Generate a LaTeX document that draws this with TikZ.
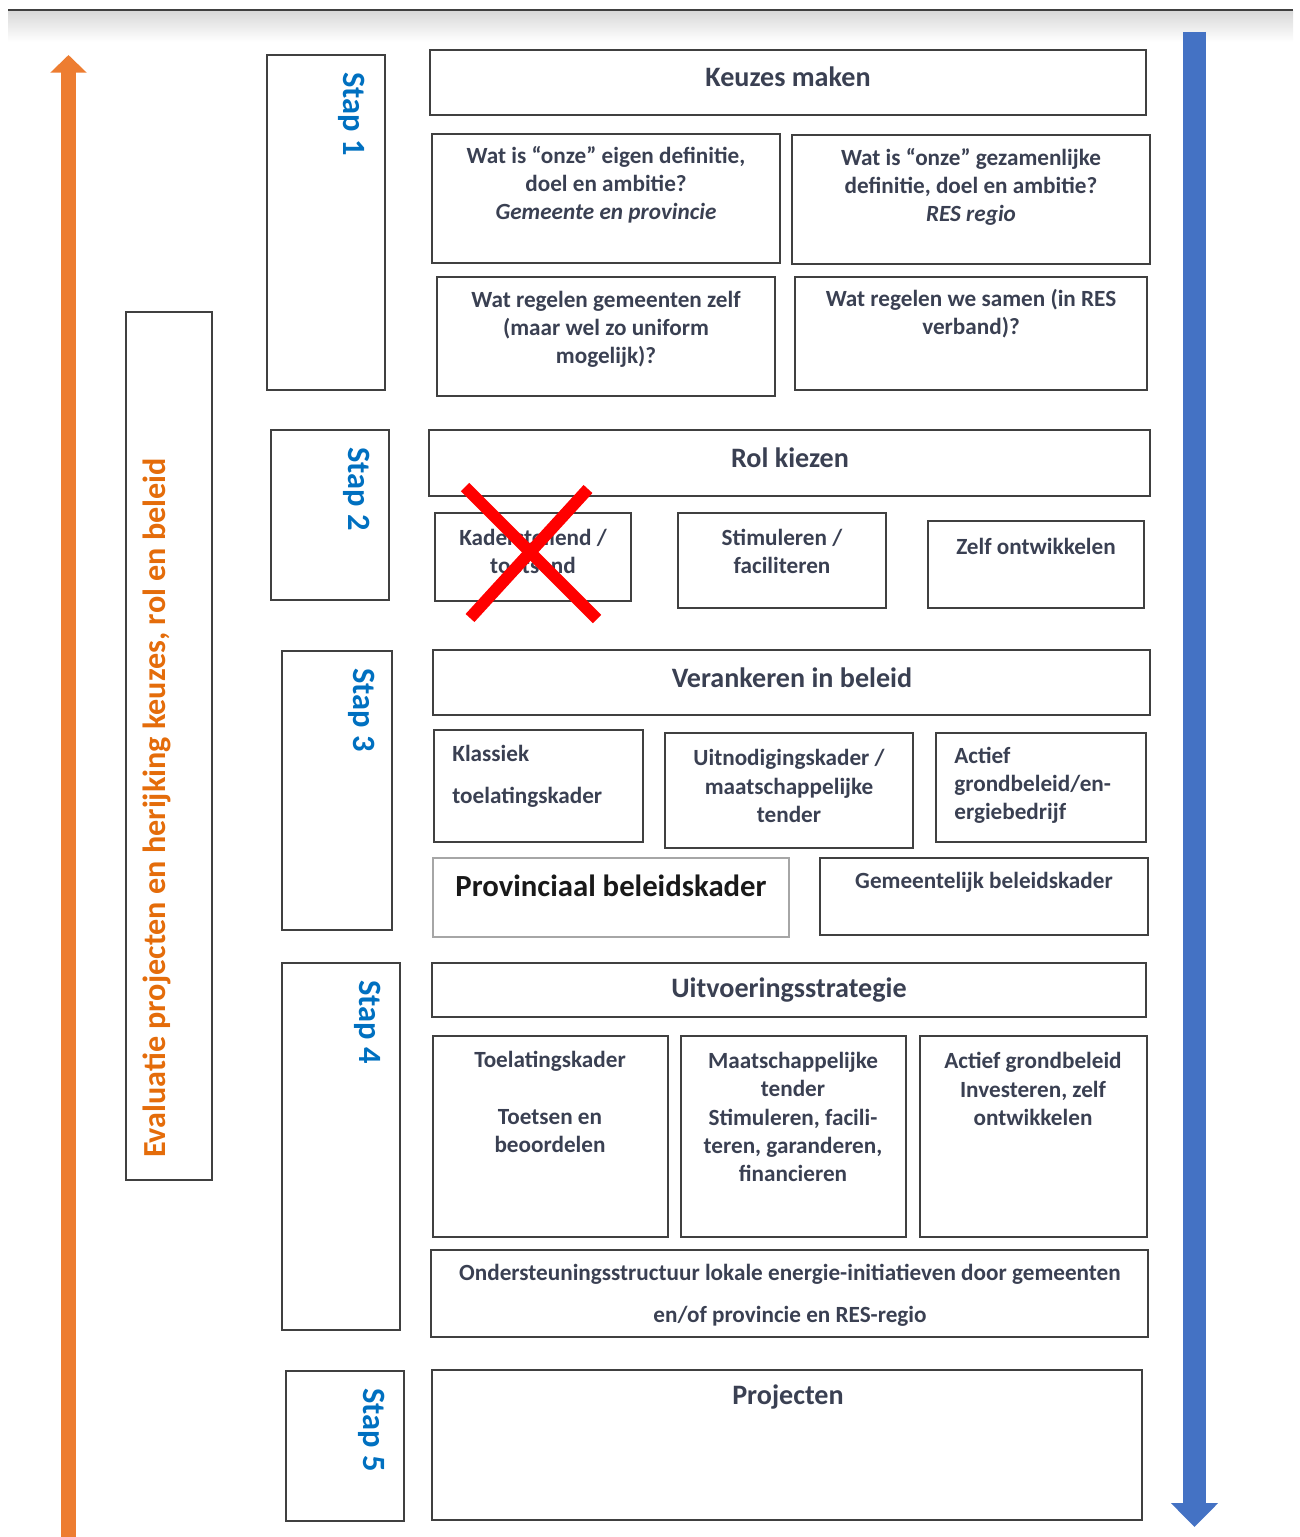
\documentclass[tikz,border=0pt]{standalone}
\usepackage{fontspec}
\setmainfont{Carlito}
\usetikzlibrary{arrows.meta,fit}
\definecolor{txtgray}{RGB}{58,64,82}
\definecolor{stapblue}{RGB}{0,112,192}
\definecolor{evalorange}{RGB}{228,108,10}
\definecolor{arroworange}{RGB}{237,125,49}
\definecolor{arrowblue}{RGB}{68,114,196}
\begin{document}
\begin{tikzpicture}[x=0.02cm, y=-0.02cm,
    box/.style={draw=black!75, line width=1.1pt, rectangle, inner sep=0pt},
    txt/.style={text=txtgray, font=\bfseries\fontsize{13.2}{16}\selectfont, align=center, inner sep=0pt},
    head/.style={txt, font=\bfseries\fontsize{16}{18}\selectfont},
    staptxt/.style={text=stapblue, font=\bfseries\fontsize{18.5}{20}\selectfont, rotate=-90, anchor=west, inner sep=0pt},
    evaltxt/.style={text=evalorange, font=\bfseries\fontsize{18.3}{20}\selectfont, rotate=90, inner sep=0pt},
    evalarrow/.style={-{Triangle[width=20pt,length=10pt]}, line width=8.5pt, arroworange},
    stapsarrow/.style={-{Triangle[width=26pt,length=13.6pt]}, line width=13pt, arrowblue},
    cross/.style={red, line width=6.8pt}]
    \useasboundingbox (0,0) rectangle (1300,1537);
    \shade[top color=black!15, bottom color=white] (8,11) rectangle (1293,42);
    \draw[black!75, line width=1.3pt] (8,10) -- (1293,10);

    \coordinate (evalfoot) at (68.5,1545);
    \coordinate (evaltip) at (68.5,55);
    \draw[evalarrow] (evalfoot) -- (evaltip);
    \coordinate (stapstop) at (1194.5,32);
    \coordinate (stapsend) at (1194.5,1527);
    \draw[stapsarrow] (stapstop) -- (stapsend);

    \node[box, fit={(126,312) (212,1180)}] (eval) {};
    \node[evaltxt] (evalT) at (157,808) {Evaluatie projecten en herijking keuzes, rol en beleid};

    \node[box, fit={(267,55) (385,390)}] (stap1) {};
    \node[staptxt] (stap1T) at (352,72) {Stap 1};
    \node[box, fit={(271,430) (389,600)}] (stap2) {};
    \node[staptxt] (stap2T) at (357,447) {Stap 2};
    \node[box, fit={(282,651) (392,930)}] (stap3) {};
    \node[staptxt] (stap3T) at (362,668) {Stap 3};
    \node[box, fit={(282,963) (400,1330)}] (stap4) {};
    \node[staptxt] (stap4T) at (368,980) {Stap 4};
    \node[box, fit={(286,1371) (404,1521)}] (stap5) {};
    \node[staptxt] (stap5T) at (372,1388) {Stap 5};

    \node[box, fit={(430,50) (1146,115)}] (keuzes) {};
    \node[head] (keuzesT) at (788,77) {Keuzes maken};
    \node[box, fit={(432,134) (780,263)}] (eigen) {};
    \node[txt] (eigenT) at (606,185) {Wat is “onze” eigen definitie,\\doel en ambitie?\\\textit{Gemeente en provincie}};
    \node[box, fit={(792,135) (1150,264)}] (gezamenlijk) {};
    \node[txt] (gezamenlijkT) at (971,187) {Wat is “onze” gezamenlijke\\definitie, doel en ambitie?\\\textit{RES regio}};
    \node[box, fit={(437,277) (775,396)}] (zelfregel) {};
    \node[txt] (zelfregelT) at (606,329) {Wat regelen gemeenten zelf\\(maar wel zo uniform\\mogelijk)?};
    \node[box, fit={(795,277) (1147,390)}] (samenregel) {};
    \node[txt] (samenregelT) at (971,314) {Wat regelen we samen (in RES\\verband)?};

    \node[box, fit={(429,430) (1150,496)}] (rol) {};
    \node[head] (rolT) at (790,458) {Rol kiezen};
    \node[box, fit={(435,513) (631,601)}] (kader) {};
    \node[txt] (kaderT) at (533,551) {Kaderstellend /\\toetsend};
    \node[box, fit={(678,513) (886,608)}] (stimuleren) {};
    \node[txt] (stimulerenT) at (782,551) {Stimuleren /\\faciliteren};
    \node[box, fit={(928,521) (1144,608)}] (ontwikkelen) {};
    \node[txt] (ontwikkelenT) at (1036,546) {Zelf ontwikkelen};
    \draw[cross] (465,487) -- (597,619);
    \draw[cross] (588,489) -- (470,618);

    \node[box, fit={(433,650) (1150,715)}] (verankeren) {};
    \node[head] (verankerenT) at (792,678) {Verankeren in beleid};
    \node[box, fit={(434,730) (643,842)}] (klassiek) {};
    \node[txt, align=left, anchor=west] (klassiekT) at (452,776) {Klassiek\\[8pt]toelatingskader};
    \node[box, fit={(665,733) (913,848)}] (uitnodiging) {};
    \node[txt] (uitnodigingT) at (789,786) {Uitnodigingskader /\\maatschappelijke\\tender};
    \node[box, fit={(936,733) (1146,842)}] (actief) {};
    \node[txt, align=left, anchor=west] (actiefT) at (954,785) {Actief\\grondbeleid/en-\\ergiebedrijf};
    \node[box, draw=black!35, line width=0.8pt, fit={(433,858) (789,937)}] (provinciaal) {};
    \node[txt, text=black!90, font=\bfseries\fontsize{17.5}{20}\selectfont] (provinciaalT) at (611,886) {Provinciaal beleidskader};
    \node[box, fit={(820,858) (1148,935)}] (gemeentelijk) {};
    \node[txt] (gemeentelijkT) at (984,882) {Gemeentelijk beleidskader};

    \node[box, fit={(432,963) (1146,1017)}] (uitvoering) {};
    \node[head] (uitvoeringT) at (789,990) {Uitvoeringsstrategie};
    \node[box, fit={(433,1036) (668,1237)}] (toelating) {};
    \node[txt] (toelatingT) at (550,1102) {Toelatingskader\\[16pt]Toetsen en\\beoordelen};
    \node[box, fit={(681,1036) (906,1237)}] (tender) {};
    \node[txt] (tenderT) at (793,1117) {Maatschappelijke\\tender\\Stimuleren, facili-\\teren, garanderen,\\financieren};
    \node[box, fit={(920,1036) (1147,1237)}] (grondbeleid) {};
    \node[txt] (grondbeleidT) at (1033,1089) {Actief grondbeleid\\Investeren, zelf\\ontwikkelen};
    \node[box, fit={(431,1250) (1148,1337)}] (ondersteuning) {};
    \node[txt] (ondersteuningT) at (790,1295) {Ondersteuningsstructuur lokale energie-initiatieven door gemeenten\\[8pt]en/of provincie en RES-regio};

    \node[box, fit={(432,1370) (1142,1520)}] (projecten) {};
    \node[head] (projectenT) at (788,1397) {Projecten};
\end{tikzpicture}
\end{document}
